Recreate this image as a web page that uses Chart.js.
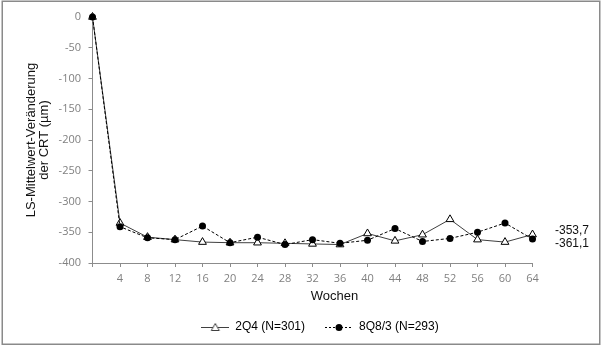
<!DOCTYPE html>
<html>
<head>
<meta charset="utf-8">
<script src="https://cdn.jsdelivr.net/npm/chart.js@4.4.1/dist/chart.umd.min.js"></script>
<style>
html, body { margin: 0; padding: 0; background: #fff; }
canvas { display: block; }
</style>
</head>
<body>
<canvas id="chart" width="605" height="351"></canvas>
<script>
// weeks on the x axis
const weeks = [0, 4, 8, 12, 16, 20, 24, 28, 32, 36, 40, 44, 48, 52, 56, 60, 64]
// LS mean change of CRT (µm)
const q4Values = [0, -335, -358, -362, -366, -367, -367, -368, -369, -370, -352, -364, -354, -329, -362, -366, -353.7]
const q8Values = [0, -341, -359, -362, -340, -367, -358, -370, -362, -368, -363, -344, -365, -360, -350, -335, -361.1]
const seriesNames = ['2Q4 (N=301)', '8Q8/3 (N=293)']
const endLabels = ['-353,7', '-361,1']
const yTitle = ['LS-Mittelwert-Veränderung', 'der CRT (µm)']
const xTitle = 'Wochen'

const axisColor = '#8c8c8c'
const tickFont = { family: 'Open Sans', size: 11 }

// little legend samples: line + marker
function legendSample(kind) {
    const cv = document.createElement('canvas')
    cv.width = 28
    cv.height = 12
    const ctx = cv.getContext('2d')
    ctx.lineWidth = 1
    ctx.strokeStyle = kind === 'tri' ? '#404040' : '#000'
    if (kind !== 'tri') ctx.setLineDash([2, 2])
    ctx.beginPath()
    ctx.moveTo(0, 6.5)
    ctx.lineTo(28, 6.5)
    ctx.stroke()
    ctx.setLineDash([])
    ctx.beginPath()
    if (kind === 'tri') {
        ctx.moveTo(14, 2.5)
        ctx.lineTo(18, 9.5)
        ctx.lineTo(10, 9.5)
        ctx.closePath()
        ctx.fillStyle = '#fff'
        ctx.fill()
        ctx.stroke()
    } else {
        ctx.arc(14, 6.5, 3.5, 0, Math.PI * 2)
        ctx.fillStyle = '#000'
        ctx.fill()
    }
    return cv
}
const legendImages = [legendSample('tri'), legendSample('dot')]

const textPlugin = {
    id: 'texts',
    beforeDraw(chart) {
        const { ctx, width, height } = chart
        ctx.save()
        ctx.fillStyle = '#fff'
        ctx.fillRect(0, 0, width, height)
        ctx.strokeStyle = '#8a8a8a'
        ctx.lineWidth = 1.5
        ctx.strokeRect(2.25, 1.25, 597.5, 343)
        ctx.restore()
    },
    afterDraw(chart) {
        const { ctx, chartArea } = chart
        const xs = chart.scales.x
        const ys = chart.scales.y
        ctx.save()
        ctx.fillStyle = '#111'
        ctx.textBaseline = 'middle'
        // y axis title
        ctx.font = '13px "Liberation Sans"'
        ctx.textAlign = 'center'
        ctx.translate(31, (chartArea.top + chartArea.bottom) / 2)
        ctx.rotate(-Math.PI / 2)
        yTitle.forEach((line, i) => ctx.fillText(line, 0, i * 13))
        ctx.setTransform(1, 0, 0, 1, 0, 0)
        // x axis title
        ctx.fillText(xTitle, (chartArea.left + chartArea.right) / 2 + 22, chartArea.bottom + 33)
        // end values
        ctx.font = '12px "Liberation Sans"'
        ctx.textAlign = 'left'
        const last = weeks.length - 1
        const xEnd = xs.getPixelForValue(weeks[last]) + 22.5
        ctx.fillText(endLabels[0], xEnd, ys.getPixelForValue(q4Values[last]) - 3.5)
        ctx.fillText(endLabels[1], xEnd, ys.getPixelForValue(q8Values[last]) + 4.5)
        ctx.restore()
    }
}

new Chart(document.getElementById('chart'), {
    type: 'line',
    data: {
        datasets: [
            {
                label: seriesNames[0],
                data: weeks.map((w, i) => ({ x: w, y: q4Values[i] })),
                borderColor: '#404040',
                borderWidth: 1,
                pointStyle: 'triangle',
                pointRadius: 4.5,
                pointBackgroundColor: '#fff',
                pointBorderColor: '#000',
                pointBorderWidth: 1,
                tension: 0,
                clip: false,
                order: 1
            },
            {
                label: seriesNames[1],
                data: weeks.map((w, i) => ({ x: w, y: q8Values[i] })),
                borderColor: '#000',
                borderWidth: 1,
                borderDash: [3, 2],
                pointStyle: 'circle',
                pointRadius: 3.5,
                pointBackgroundColor: '#000',
                pointBorderColor: '#000',
                pointBorderWidth: 0,
                tension: 0,
                clip: false,
                order: 0
            }
        ]
    },
    options: {
        responsive: false,
        animation: false,
        devicePixelRatio: 1,
        layout: { padding: { left: 35, right: 0, top: 17, bottom: 8 } },
        scales: {
            x: {
                type: 'linear',
                min: 0,
                max: 64,
                afterFit: s => { s.height = 38 },
                ticks: {
                    stepSize: 4,
                    autoSkip: false,
                    maxRotation: 0,
                    padding: 5,
                    color: '#808080',
                    font: tickFont,
                    callback: v => (v === 0 ? '' : v)
                },
                grid: { drawOnChartArea: false, tickLength: 4, color: axisColor },
                border: { color: axisColor, width: 1 }
            },
            y: {
                min: -400,
                max: 0,
                afterFit: s => { s.width = 57.5 },
                ticks: { stepSize: 50, padding: 7.5, color: '#808080', font: tickFont },
                grid: { drawOnChartArea: false, tickLength: 4, color: axisColor },
                border: { color: axisColor, width: 1 }
            },
            y2: {
                position: 'right',
                afterFit: s => { s.width = 72.5 },
                ticks: { display: false },
                grid: { display: false },
                border: { display: false }
            }
        },
        plugins: {
            tooltip: { enabled: false },
            legend: {
                position: 'bottom',
                labels: {
                    usePointStyle: true,
                    pointStyleWidth: 28,
                    padding: 20,
                    color: '#000',
                    font: { family: 'Liberation Sans', size: 12 },
                    sort: (a, b) => a.datasetIndex - b.datasetIndex,
                    generateLabels(chart) {
                        const items = Chart.defaults.plugins.legend.labels.generateLabels(chart)
                        items.forEach(item => { item.pointStyle = legendImages[item.datasetIndex] })
                        return items
                    }
                }
            }
        }
    },
    plugins: [textPlugin]
})
</script>
</body>
</html>
